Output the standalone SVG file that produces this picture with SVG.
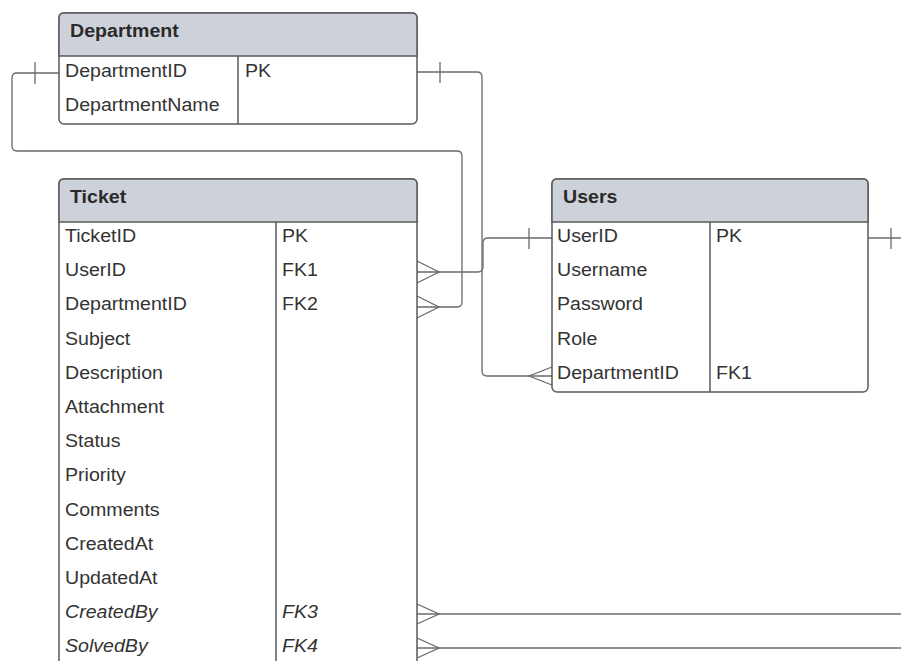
<svg xmlns="http://www.w3.org/2000/svg" width="901" height="661" viewBox="0 0 901 661">
<style>
.box{fill:#ffffff;stroke:#5a5a5a;stroke-width:1.5}
.hdr{fill:#cdd2da;stroke:#5a5a5a;stroke-width:1.5}
.div{stroke:#5a5a5a;stroke-width:1.5;fill:none}
.t{font-family:"Liberation Sans",Arial,sans-serif;font-size:17.5px;fill:#333333;transform-box:fill-box;transform-origin:left center;transform:scaleX(1.12)}
.h{font-weight:bold;fill:#2a2a2a}
.i{font-style:italic}
.c{fill:none;stroke:#6a6a6a;stroke-width:1.3}
</style>
<rect width="901" height="661" fill="#ffffff"/>
<g id="connectors">
<path class="c" d="M59,73 H17 Q12,73 12,78 V146 Q12,151 17,151 H457 Q462,151 462,156 V302 Q462,307 457,307 H417"/>
<path class="c" d="M35,62 V84"/>
<path class="c" d="M417,296 L439,307 L417,318"/>
<path class="c" d="M417,72 H477 Q482,72 482,77 V371 Q482,376 487,376 H552"/>
<path class="c" d="M440,62 V83"/>
<path class="c" d="M552,367 L529,376 L552,385"/>
<path class="c" d="M552,238 H488 Q483,238 483,243 V267 Q483,272 478,272 H417"/>
<path class="c" d="M529,228 V249"/>
<path class="c" d="M417,261 L439,272 L417,283"/>
<path class="c" d="M868,238 H901"/>
<path class="c" d="M891,228 V249"/>
<path class="c" d="M417,614 H901"/>
<path class="c" d="M417,604 L439,614 L417,624"/>
<path class="c" d="M417,648 H901"/>
<path class="c" d="M417,638 L439,648 L417,658"/>
</g>
<g id="department">
<rect class="box" x="59" y="13" width="358" height="111" rx="5"/>
<path class="hdr" d="M59,56 V18 Q59,13 64,13 H412 Q417,13 417,18 V56 Z"/>
<line class="div" x1="238" y1="56" x2="238" y2="124"/>
<text class="t h" x="70" y="37">Department</text>
<text class="t" x="65" y="77">DepartmentID</text>
<text class="t" x="245" y="77">PK</text>
<text class="t" x="65" y="111">DepartmentName</text>
</g>
<g id="ticket">
<rect class="box" x="59" y="179" width="358" height="530" rx="5"/>
<path class="hdr" d="M59,222 V184 Q59,179 64,179 H412 Q417,179 417,184 V222 Z"/>
<line class="div" x1="276" y1="222" x2="276" y2="709"/>
<text class="t h" x="70" y="203">Ticket</text>
<text class="t" x="65" y="242">TicketID</text>
<text class="t" x="282" y="242">PK</text>
<text class="t" x="65" y="276.5">UserID</text>
<text class="t" x="282" y="276.5">FK1</text>
<text class="t" x="65" y="310.5">DepartmentID</text>
<text class="t" x="282" y="310.5">FK2</text>
<text class="t" x="65" y="345">Subject</text>
<text class="t" x="65" y="379">Description</text>
<text class="t" x="65" y="413.5">Attachment</text>
<text class="t" x="65" y="447.5">Status</text>
<text class="t" x="65" y="481.5">Priority</text>
<text class="t" x="65" y="516">Comments</text>
<text class="t" x="65" y="550">CreatedAt</text>
<text class="t" x="65" y="584">UpdatedAt</text>
<text class="t i" x="65" y="618.5">CreatedBy</text>
<text class="t i" x="282" y="618.5">FK3</text>
<text class="t i" x="65" y="652.5">SolvedBy</text>
<text class="t i" x="282" y="652.5">FK4</text>
</g>
<g id="users">
<rect class="box" x="552" y="179" width="316" height="213" rx="5"/>
<path class="hdr" d="M552,222 V184 Q552,179 557,179 H863 Q868,179 868,184 V222 Z"/>
<line class="div" x1="710" y1="222" x2="710" y2="392"/>
<text class="t h" x="563" y="203">Users</text>
<text class="t" x="557" y="242">UserID</text>
<text class="t" x="716" y="242">PK</text>
<text class="t" x="557" y="276.5">Username</text>
<text class="t" x="557" y="310.5">Password</text>
<text class="t" x="557" y="345">Role</text>
<text class="t" x="557" y="379">DepartmentID</text>
<text class="t" x="716" y="379">FK1</text>
</g>
</svg>
